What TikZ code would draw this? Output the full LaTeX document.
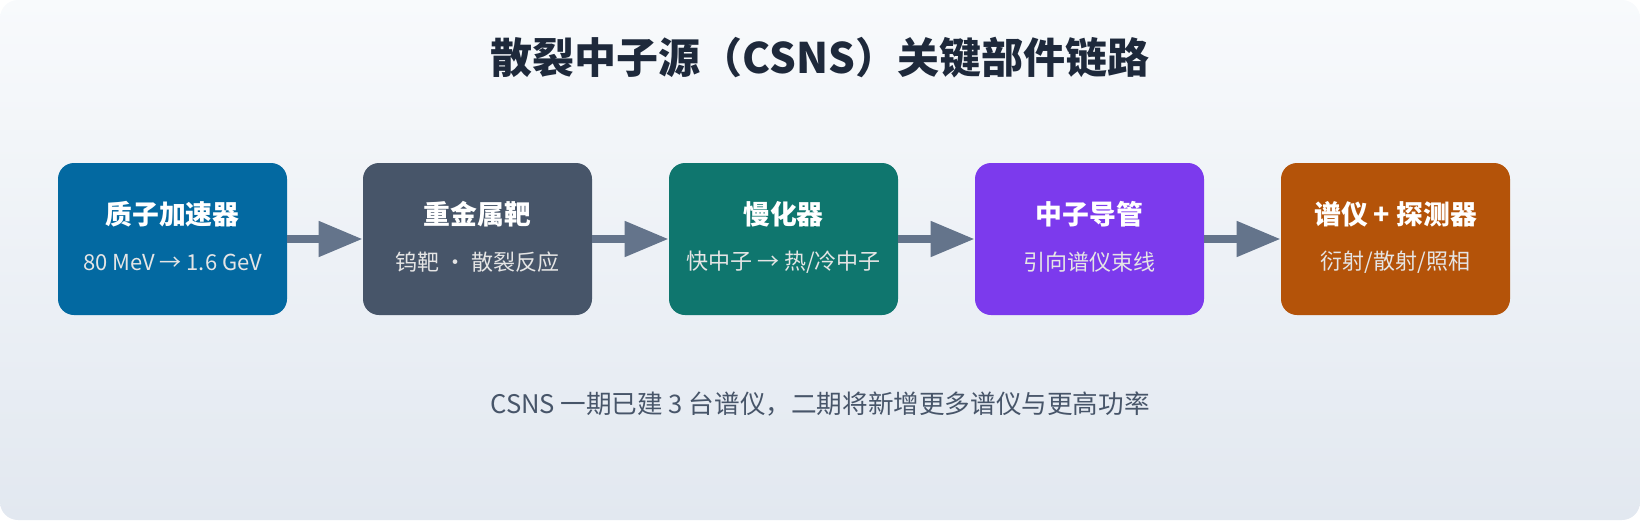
\documentclass[tikz,border=0pt]{standalone}
\usepackage{fontspec}
\setmainfont{Noto Sans CJK SC}
\usetikzlibrary{arrows.meta,positioning}
\definecolor{bgtop}{HTML}{F8FAFC}
\definecolor{bgbot}{HTML}{E2E8F0}
\definecolor{ink}{HTML}{1E293B}
\definecolor{slate}{HTML}{475569}
\definecolor{arrowc}{HTML}{64748B}
\definecolor{cA}{HTML}{0369A1}
\definecolor{cB}{HTML}{475569}
\definecolor{cC}{HTML}{0F766E}
\definecolor{cD}{HTML}{7C3AED}
\definecolor{cE}{HTML}{B45309}
\tikzset{
  part/.style={rounded corners=8pt,minimum width=114.5pt,minimum height=76pt,inner sep=0pt},
  head/.style={text=white,font=\fontsize{13.4}{15}\selectfont\bfseries},
  sub/.style={text=white!90!black,font=\fontsize{11}{13}\selectfont},
  flow/.style={arrowc,line width=4pt,-{Triangle[length=22pt,width=17pt]}}
}
\begin{document}
\begin{tikzpicture}[x=0.5pt,y=-0.5pt]
  % background
  \shade[top color=bgtop,bottom color=bgbot,rounded corners=9pt] (0,0) rectangle (1640,520);
  \node[text=ink,font=\fontsize{21}{25}\selectfont\bfseries] (title) at (820,58) {散裂中子源（CSNS）关键部件链路};

  % parts
  \node[part,fill=cA] (acc) at (172.5,239) {};
  \node[part,fill=cB] (tgt) at (477.5,239) {};
  \node[part,fill=cC] (mod) at (783.5,239) {};
  \node[part,fill=cD] (gd) at (1089.5,239) {};
  \node[part,fill=cE] (det) at (1395.5,239) {};

  \node[head] (accH) at (172.5,214) {质子加速器};
  \node[sub] (accS) at (172.5,262) {80 MeV → 1.6 GeV};
  \node[head] (tgtH) at (477.5,214) {重金属靶};
  \node[sub] (tgtS) at (477.5,262) {钨靶 · 散裂反应};
  \node[head] (modH) at (783.5,214) {慢化器};
  \node[sub] (modS) at (783.5,262) {快中子 → 热/冷中子};
  \node[head] (gdH) at (1089.5,214) {中子导管};
  \node[sub] (gdS) at (1089.5,262) {引向谱仪束线};
  \node[head] (detH) at (1395.5,214) {谱仪 + 探测器};
  \node[sub] (detS) at (1395.5,262) {衍射/散射/照相};

  % links
  \draw[flow] (acc.east) -- (tgt.west);
  \draw[flow] (tgt.east) -- (mod.west);
  \draw[flow] (mod.east) -- (gd.west);
  \draw[flow] (gd.east) -- (det.west);

  \node[text=slate,font=\fontsize{12.8}{15}\selectfont] (note) at (820,404) {CSNS 一期已建 3 台谱仪，二期将新增更多谱仪与更高功率};

  \pgfresetboundingbox
  \path[use as bounding box] (0,0) rectangle (1640,520);
\end{tikzpicture}
\end{document}
